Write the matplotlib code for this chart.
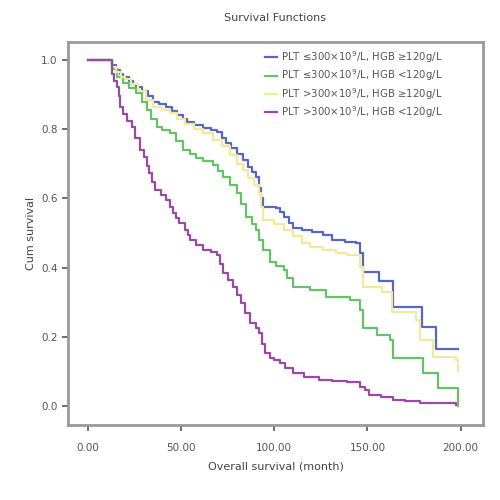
import matplotlib
matplotlib.use("Agg")
import matplotlib.pyplot as plt

# Kaplan-Meier curves (time in months, cumulative survival)
blue_t = [0, 13, 15, 17, 19, 22, 24, 26, 29, 32, 35, 38, 42, 45, 48, 51, 53, 57,
          62, 66, 69, 72, 74, 77, 80, 83, 86, 88, 90, 92, 93, 94, 101, 103, 105,
          108, 110, 115, 120, 126, 131, 138, 144, 146, 147.5, 156, 163.5, 179,
          187, 198.5]
blue_s = [1.0, 0.985, 0.97, 0.96, 0.952, 0.94, 0.93, 0.923, 0.91, 0.895, 0.88,
          0.872, 0.865, 0.853, 0.84, 0.83, 0.822, 0.812, 0.803, 0.798, 0.793,
          0.775, 0.76, 0.745, 0.727, 0.711, 0.69, 0.675, 0.663, 0.63, 0.6, 0.576,
          0.572, 0.56, 0.547, 0.53, 0.514, 0.51, 0.503, 0.494, 0.48, 0.475, 0.47,
          0.441, 0.388, 0.362, 0.287, 0.229, 0.165, 0.165]

green_t = [0, 13, 15.4, 19, 22, 26, 29, 31.5, 34, 37, 40, 44, 47, 51, 55, 58, 62,
           67, 70, 72.6, 76, 80, 82, 85, 88, 90, 92, 94, 97.6, 101, 105, 107, 110,
           119, 128, 140.5, 146, 147.5, 155, 162, 163.5, 179.6, 187.7, 198.5]
green_s = [1.0, 0.975, 0.952, 0.933, 0.92, 0.904, 0.88, 0.855, 0.83, 0.807, 0.798,
           0.788, 0.765, 0.74, 0.727, 0.716, 0.707, 0.697, 0.68, 0.663, 0.64,
           0.615, 0.585, 0.547, 0.525, 0.51, 0.48, 0.451, 0.417, 0.405, 0.393,
           0.37, 0.345, 0.335, 0.316, 0.306, 0.277, 0.225, 0.205, 0.19, 0.139,
           0.095, 0.052, 0.0]

yellow_t = [0, 13, 15, 18, 20, 23, 27, 31, 35, 40, 44, 48, 52, 57, 62, 67, 72, 76,
            80, 83, 86, 89, 92, 93, 94, 100, 105, 110, 115, 119, 126, 133, 139,
            146, 147.5, 158, 163, 176, 178, 185, 197.7, 198.5]
yellow_s = [1.0, 0.98, 0.965, 0.952, 0.945, 0.93, 0.91, 0.885, 0.865, 0.855,
            0.846, 0.83, 0.815, 0.8, 0.788, 0.77, 0.75, 0.725, 0.7, 0.682, 0.66,
            0.638, 0.615, 0.575, 0.538, 0.525, 0.509, 0.49, 0.472, 0.46, 0.451,
            0.443, 0.436, 0.403, 0.345, 0.33, 0.272, 0.248, 0.19, 0.142, 0.133,
            0.10]

purple_t = [0, 13, 14, 15.4, 16.5, 17.2, 19, 21, 23.4, 25.5, 28, 30, 31.5, 33,
            34.5, 36, 39, 42, 44, 45.6, 47, 49, 52, 53.5, 55, 58, 62, 66, 69, 71,
            72.6, 75, 78, 80, 82.4, 84.5, 87, 90, 92, 93.5, 95, 97.6, 100, 103,
            106, 110, 116, 124, 131, 139, 146, 148.5, 151, 157, 163.5, 170, 178,
            197.7]
purple_s = [1.0, 0.96, 0.94, 0.923, 0.895, 0.865, 0.845, 0.825, 0.807, 0.775,
            0.74, 0.72, 0.695, 0.673, 0.648, 0.624, 0.61, 0.595, 0.575, 0.557,
            0.543, 0.529, 0.509, 0.495, 0.48, 0.466, 0.451, 0.444, 0.436, 0.41,
            0.384, 0.365, 0.344, 0.32, 0.297, 0.27, 0.24, 0.225, 0.211, 0.18,
            0.153, 0.139, 0.132, 0.124, 0.11, 0.095, 0.085, 0.075, 0.072, 0.07,
            0.056, 0.045, 0.032, 0.025, 0.017, 0.013, 0.009, 0.003]

labels = [
    "PLT \u2264300\u00d710$^9$/L, HGB \u2265120g/L",
    "PLT \u2264300\u00d710$^9$/L, HGB <120g/L",
    "PLT >300\u00d710$^9$/L, HGB \u2265120g/L",
    "PLT >300\u00d710$^9$/L, HGB <120g/L",
]
colors = ["#5566c4", "#66c266", "#f2e99a", "#9a4aa6"]

x_ticks = [0, 50, 100, 150, 200]
y_ticks = [0.0, 0.2, 0.4, 0.6, 0.8, 1.0]

fig = plt.figure(figsize=(5, 5), dpi=100)
ax = fig.add_axes([0.136, 0.15, 0.83, 0.766])

series = [(blue_t, blue_s), (green_t, green_s), (yellow_t, yellow_s), (purple_t, purple_s)]
for (t, s), c, lab in zip(series, colors, labels):
    ax.step(t, s, where="post", color=c, lw=1.6, label=lab)

ax.set_xlim(-10.7, 212)
ax.set_ylim(-0.055, 1.052)
ax.set_xticks(x_ticks)
ax.set_xticklabels([f"{v:.2f}" for v in x_ticks])
ax.set_yticks(y_ticks)
ax.set_yticklabels([f"{v:.1f}" for v in y_ticks])
ax.tick_params(labelsize=7.5, colors="#555555", length=4, width=1.2)
ax.tick_params(axis="x", pad=9)

for sp in ax.spines.values():
    sp.set_color("#999999")
    sp.set_linewidth(2)

ax.set_xlabel("Overall survival (month)", fontsize=8, color="#444444", labelpad=6)
ax.set_ylabel("Cum survival", fontsize=8, color="#444444")
ax.set_title("Survival Functions", fontsize=8, color="#444444", pad=15)

leg = ax.legend(loc="upper right", bbox_to_anchor=(0.92, 1.0), frameon=False,
                fontsize=7.3, handlelength=1.2, handletextpad=0.4,
                labelspacing=0.25, borderaxespad=0.3)
for txt in leg.get_texts():
    txt.set_color("#555555")

fig.savefig("out.png", dpi=100)
